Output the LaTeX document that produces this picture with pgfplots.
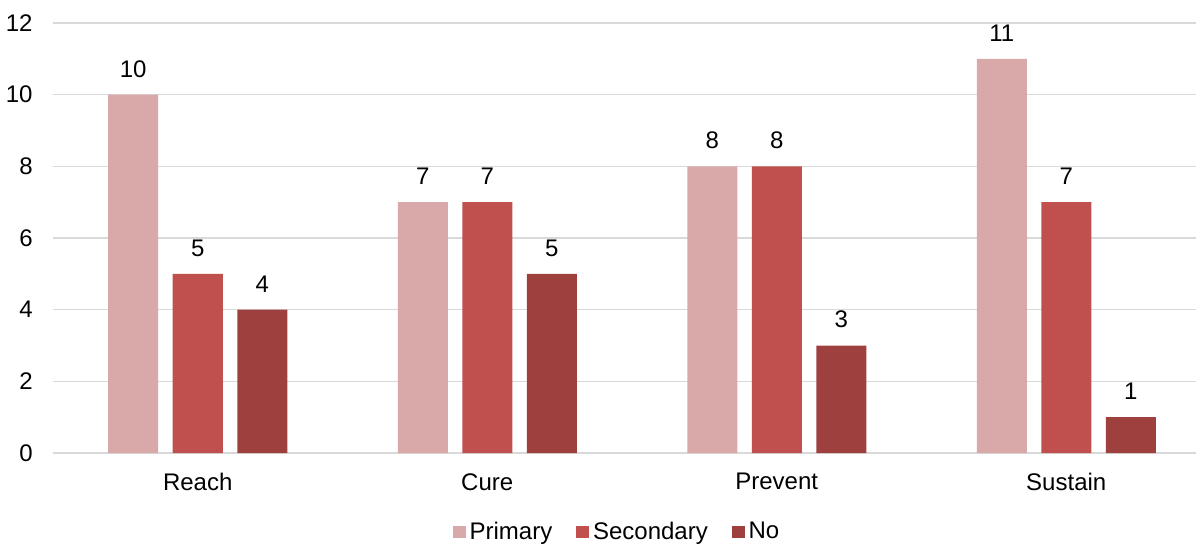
\documentclass[border=0pt]{standalone}
\usepackage{fontspec}
\setmainfont{Liberation Sans}
\usepackage{pgfplots}
\pgfplotsset{compat=1.18}
\definecolor{cPrim}{HTML}{D9A9A9}
\definecolor{cSec}{HTML}{C0504D}
\definecolor{cNo}{HTML}{9E413E}
\definecolor{cGrid}{HTML}{D9D9D9}
\begin{document}
\begin{tikzpicture}
\begin{axis}[
  at={(0,0)}, anchor=south west,
  x=144.75pt, y=17.9167pt,
  xmin=-0.5, xmax=3.449,
  ymin=0, ymax=12,
  ytick={0,2,4,6,8,10,12},
  xtick={0,1,2,3},
  xticklabels={Reach,Cure,Prevent,Sustain},
  major tick length=0pt,
  axis line style={draw=none},
  ymajorgrids,
  grid style={cGrid, line width=0.75pt},
  ybar, bar width=25pt,
  clip=false,
  font=\fontsize{12}{14}\selectfont,
  /pgf/number format/assume math mode=true,
  yticklabel style={inner sep=0pt, anchor=east, xshift=-10pt, font=\fontsize{12}{14}\selectfont},
  xticklabel style={inner sep=0pt, anchor=north, yshift=-10pt, font=\fontsize{12}{14}\selectfont},
  nodes near coords,
  every node near coord/.append style={inner sep=0pt, anchor=south, yshift=8.5pt, font=\fontsize{12}{14}\selectfont, text=black},
  legend style={at={(0.4943,-0.1837)}, anchor=center, draw=none, fill=none,
    legend columns=3, font=\fontsize{12}{14}\selectfont,
    /tikz/every even column/.append style={column sep=10pt}},
  legend image code/.code={\fill[#1] (0pt,-3.2pt) rectangle (6.4pt,3.2pt);},
]
\addplot[fill=cPrim, draw=none, bar shift=-32.25pt] coordinates {(0,10) (1,7) (2,8) (3,11)};
\addplot[fill=cSec, draw=none, bar shift=0pt] coordinates {(0,5) (1,7) (2,8) (3,7)};
\addplot[fill=cNo, draw=none, bar shift=32.25pt] coordinates {(0,4) (1,5) (2,3) (3,1)};
\legend{Primary,Secondary,No}
\end{axis}
\pgfresetboundingbox
\useasboundingbox (-26.5pt,-45pt) rectangle (571.5pt,226.5pt);
\end{tikzpicture}
\end{document}
